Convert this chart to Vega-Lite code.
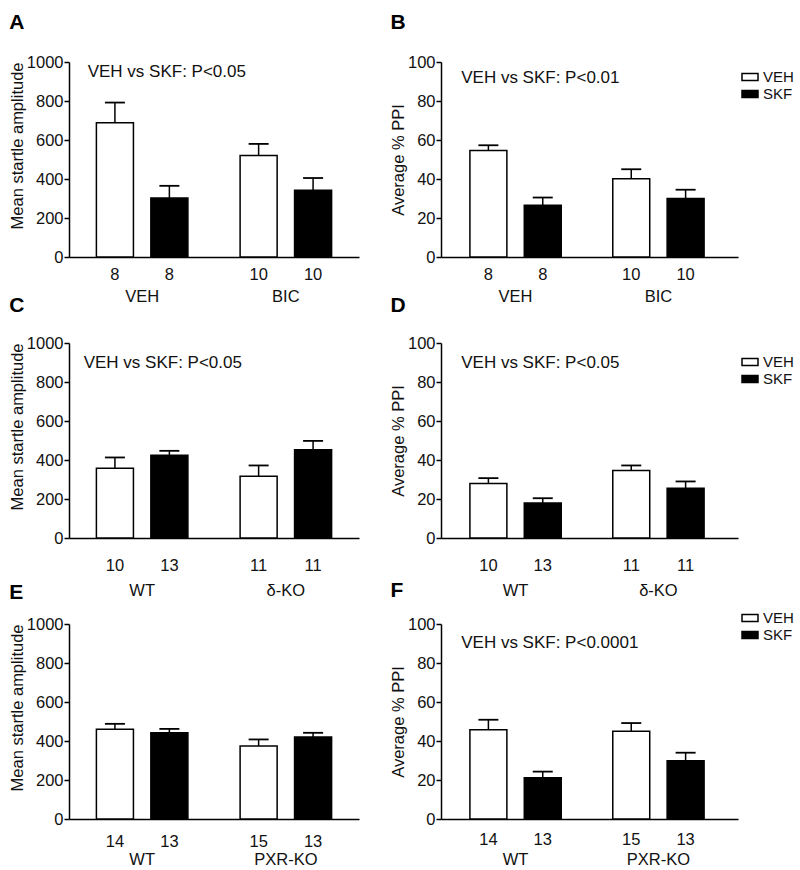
{
 "$schema": "https://vega.github.io/schema/vega-lite/v6.json",
 "padding": {"left": 9, "top": 12, "right": 2, "bottom": 2},
 "background": "white",
 "datasets": {
  "bars": [
   {"panel":"A","group":"VEH","trt":"VEH","n":"8","value":688,"upper":792},
   {"panel":"A","group":"VEH","trt":"SKF","n":"8","value":303,"upper":365},
   {"panel":"A","group":"BIC","trt":"VEH","n":"10","value":520,"upper":580},
   {"panel":"A","group":"BIC","trt":"SKF","n":"10","value":342,"upper":405},
   {"panel":"B","group":"VEH","trt":"VEH","n":"8","value":54.6,"upper":57.3},
   {"panel":"B","group":"VEH","trt":"SKF","n":"8","value":26.6,"upper":30.5},
   {"panel":"B","group":"BIC","trt":"VEH","n":"10","value":40.1,"upper":45},
   {"panel":"B","group":"BIC","trt":"SKF","n":"10","value":30,"upper":34.5},
   {"panel":"C","group":"WT","trt":"VEH","n":"10","value":358,"upper":413},
   {"panel":"C","group":"WT","trt":"SKF","n":"13","value":424,"upper":447},
   {"panel":"C","group":"δ-KO","trt":"VEH","n":"11","value":317,"upper":372},
   {"panel":"C","group":"δ-KO","trt":"SKF","n":"11","value":453,"upper":498},
   {"panel":"D","group":"WT","trt":"VEH","n":"10","value":27.9,"upper":30.7},
   {"panel":"D","group":"WT","trt":"SKF","n":"13","value":17.9,"upper":20.4},
   {"panel":"D","group":"δ-KO","trt":"VEH","n":"11","value":34.6,"upper":37.2},
   {"panel":"D","group":"δ-KO","trt":"SKF","n":"11","value":25.5,"upper":29},
   {"panel":"E","group":"WT","trt":"VEH","n":"14","value":460,"upper":488},
   {"panel":"E","group":"WT","trt":"SKF","n":"13","value":442,"upper":462},
   {"panel":"E","group":"PXR-KO","trt":"VEH","n":"15","value":374,"upper":408},
   {"panel":"E","group":"PXR-KO","trt":"SKF","n":"13","value":421,"upper":442},
   {"panel":"F","group":"WT","trt":"VEH","n":"14","value":45.8,"upper":50.9},
   {"panel":"F","group":"WT","trt":"SKF","n":"13","value":21.2,"upper":24.3},
   {"panel":"F","group":"PXR-KO","trt":"VEH","n":"15","value":45,"upper":49.2},
   {"panel":"F","group":"PXR-KO","trt":"SKF","n":"13","value":29.9,"upper":34}
  ],
  "notes": [
   {"panel":"A","group":"VEH","note":"VEH vs SKF: P<0.05"},
   {"panel":"B","group":"VEH","note":"VEH vs SKF: P<0.01"},
   {"panel":"C","group":"WT","note":"VEH vs SKF: P<0.05"},
   {"panel":"D","group":"WT","note":"VEH vs SKF: P<0.05"},
   {"panel":"F","group":"WT","note":"VEH vs SKF: P<0.0001"}
  ]
 },
 "columns": 2,
 "spacing": {"row": 86, "column": 82},
 "bounds": "flush",
 "resolve": {"scale": {"fill": "independent", "xOffset": "independent"}, "legend": {"fill": "independent"}},
 "concat": [
  {
   "width": 290, "height": 195,
   "title": {"text": "A", "offset": 21},
   "layer": [
    {"data":{"name":"bars"},"transform":[{"filter":"datum.panel==='A'"}],
     "mark":{"type":"bar","stroke":"black","strokeWidth":1.5},
     "encoding":{
      "x":{"field":"group","type":"nominal","scale":{"domain":["VEH","BIC"],"paddingInner":0.242,"paddingOuter":0.13},"axis":{"labelPadding":31}},
      "xOffset":{"field":"trt","type":"nominal","scale":{"domain":["VEH","SKF"],"paddingInner":0.32,"paddingOuter":0.16}},
      "y":{"field":"value","type":"quantitative","title":"Mean startle amplitude","scale":{"domain":[0,1000],"nice":false},"axis":{"values":[0,200,400,600,800,1000],"tickCount":6,"format":"d","titleAnchor":"end"}},
      "fill":{"field":"trt","type":"nominal","scale":{"domain":["VEH","SKF"],"range":["white","black"]},"legend":null}}},
    {"data":{"name":"bars"},"transform":[{"filter":"datum.panel==='A'"}],
     "mark":{"type":"rule","strokeWidth":1.5,"color":"black"},
     "encoding":{"x":{"field":"group","type":"nominal"},"xOffset":{"field":"trt","type":"nominal"},
      "y":{"field":"value","type":"quantitative","title":"Mean startle amplitude","axis":{"values":[0,200,400,600,800,1000],"tickCount":6,"format":"d","titleAnchor":"end"}},"y2":{"field":"upper"}}},
    {"data":{"name":"bars"},"transform":[{"filter":"datum.panel==='A'"}],
     "mark":{"type":"tick","orient":"horizontal","size":20,"thickness":1.8,"color":"black","opacity":1},
     "encoding":{"x":{"field":"group","type":"nominal"},"xOffset":{"field":"trt","type":"nominal"},
      "y":{"field":"upper","type":"quantitative","title":"Mean startle amplitude","axis":{"values":[0,200,400,600,800,1000],"tickCount":6,"format":"d","titleAnchor":"end"}}}},
    {"data":{"name":"bars"},"transform":[{"filter":"datum.panel==='A'"}],
     "mark":{"type":"text","baseline":"middle","dy":18},
     "encoding":{"x":{"field":"group","type":"nominal"},"xOffset":{"field":"trt","type":"nominal"},
      "y":{"datum":0,"type":"quantitative"},"text":{"field":"n"}}},
    {"data":{"name":"notes"},"transform":[{"filter":"datum.panel==='A'"}],
     "mark":{"type":"text","align":"left","baseline":"middle","dy":10,"fontSize":17},
     "encoding":{"x":{"field":"group","type":"nominal","bandPosition":0},
      "y":{"datum":1000,"type":"quantitative"},"text":{"field":"note"}}}
   ]
  },
  {
   "width": 297, "height": 195,
   "title": {"text": "B", "offset": 21},
   "layer": [
    {"data":{"name":"bars"},"transform":[{"filter":"datum.panel==='B'"}],
     "mark":{"type":"bar","stroke":"black","strokeWidth":1.5},
     "encoding":{
      "x":{"field":"group","type":"nominal","scale":{"domain":["VEH","BIC"],"paddingInner":0.239,"paddingOuter":0.159,"align":0.445},"axis":{"labelPadding":31}},
      "xOffset":{"field":"trt","type":"nominal","scale":{"domain":["VEH","SKF"],"paddingInner":0.32,"paddingOuter":0.16}},
      "y":{"field":"value","type":"quantitative","title":"Average % PPI","scale":{"domain":[0,100],"nice":false},"axis":{"values":[0,20,40,60,80,100],"tickCount":6,"format":"d"}},
      "fill":{"field":"trt","type":"nominal","scale":{"domain":["VEH","SKF"],"range":["white","black"]},"legend":{"title":null,"legendX":300,"legendY":6}}}},
    {"data":{"name":"bars"},"transform":[{"filter":"datum.panel==='B'"}],
     "mark":{"type":"rule","strokeWidth":1.5,"color":"black"},
     "encoding":{"x":{"field":"group","type":"nominal"},"xOffset":{"field":"trt","type":"nominal"},
      "y":{"field":"value","type":"quantitative","title":"Average % PPI","axis":{"values":[0,20,40,60,80,100],"tickCount":6,"format":"d"}},"y2":{"field":"upper"}}},
    {"data":{"name":"bars"},"transform":[{"filter":"datum.panel==='B'"}],
     "mark":{"type":"tick","orient":"horizontal","size":20,"thickness":1.8,"color":"black","opacity":1},
     "encoding":{"x":{"field":"group","type":"nominal"},"xOffset":{"field":"trt","type":"nominal"},
      "y":{"field":"upper","type":"quantitative","title":"Average % PPI","axis":{"values":[0,20,40,60,80,100],"tickCount":6,"format":"d"}}}},
    {"data":{"name":"bars"},"transform":[{"filter":"datum.panel==='B'"}],
     "mark":{"type":"text","baseline":"middle","dy":18},
     "encoding":{"x":{"field":"group","type":"nominal"},"xOffset":{"field":"trt","type":"nominal"},
      "y":{"datum":0,"type":"quantitative"},"text":{"field":"n"}}},
    {"data":{"name":"notes"},"transform":[{"filter":"datum.panel==='B'"}],
     "mark":{"type":"text","align":"left","baseline":"middle","dy":16,"fontSize":17},
     "encoding":{"x":{"field":"group","type":"nominal","bandPosition":0},
      "y":{"datum":100,"type":"quantitative"},"text":{"field":"note"}}}
   ]
  },
  {
   "width": 290, "height": 195,
   "title": {"text": "C", "offset": 19},
   "layer": [
    {"data":{"name":"bars"},"transform":[{"filter":"datum.panel==='C'"}],
     "mark":{"type":"bar","stroke":"black","strokeWidth":1.5},
     "encoding":{
      "x":{"field":"group","type":"nominal","scale":{"domain":["WT","δ-KO"],"paddingInner":0.242,"paddingOuter":0.13},"axis":{"labelPadding":44}},
      "xOffset":{"field":"trt","type":"nominal","scale":{"domain":["VEH","SKF"],"paddingInner":0.32,"paddingOuter":0.16}},
      "y":{"field":"value","type":"quantitative","title":"Mean startle amplitude","scale":{"domain":[0,1000],"nice":false},"axis":{"values":[0,200,400,600,800,1000],"tickCount":6,"format":"d","titleAnchor":"end"}},
      "fill":{"field":"trt","type":"nominal","scale":{"domain":["VEH","SKF"],"range":["white","black"]},"legend":null}}},
    {"data":{"name":"bars"},"transform":[{"filter":"datum.panel==='C'"}],
     "mark":{"type":"rule","strokeWidth":1.5,"color":"black"},
     "encoding":{"x":{"field":"group","type":"nominal"},"xOffset":{"field":"trt","type":"nominal"},
      "y":{"field":"value","type":"quantitative","title":"Mean startle amplitude","axis":{"values":[0,200,400,600,800,1000],"tickCount":6,"format":"d","titleAnchor":"end"}},"y2":{"field":"upper"}}},
    {"data":{"name":"bars"},"transform":[{"filter":"datum.panel==='C'"}],
     "mark":{"type":"tick","orient":"horizontal","size":20,"thickness":1.8,"color":"black","opacity":1},
     "encoding":{"x":{"field":"group","type":"nominal"},"xOffset":{"field":"trt","type":"nominal"},
      "y":{"field":"upper","type":"quantitative","title":"Mean startle amplitude","axis":{"values":[0,200,400,600,800,1000],"tickCount":6,"format":"d","titleAnchor":"end"}}}},
    {"data":{"name":"bars"},"transform":[{"filter":"datum.panel==='C'"}],
     "mark":{"type":"text","baseline":"middle","dy":28},
     "encoding":{"x":{"field":"group","type":"nominal"},"xOffset":{"field":"trt","type":"nominal"},
      "y":{"datum":0,"type":"quantitative"},"text":{"field":"n"}}},
    {"data":{"name":"notes"},"transform":[{"filter":"datum.panel==='C'"}],
     "mark":{"type":"text","align":"left","baseline":"middle","dy":20,"fontSize":17,"dx":-4},
     "encoding":{"x":{"field":"group","type":"nominal","bandPosition":0},
      "y":{"datum":1000,"type":"quantitative"},"text":{"field":"note"}}}
   ]
  },
  {
   "width": 297, "height": 195,
   "title": {"text": "D", "offset": 19},
   "layer": [
    {"data":{"name":"bars"},"transform":[{"filter":"datum.panel==='D'"}],
     "mark":{"type":"bar","stroke":"black","strokeWidth":1.5},
     "encoding":{
      "x":{"field":"group","type":"nominal","scale":{"domain":["WT","δ-KO"],"paddingInner":0.239,"paddingOuter":0.159,"align":0.445},"axis":{"labelPadding":44}},
      "xOffset":{"field":"trt","type":"nominal","scale":{"domain":["VEH","SKF"],"paddingInner":0.32,"paddingOuter":0.16}},
      "y":{"field":"value","type":"quantitative","title":"Average % PPI","scale":{"domain":[0,100],"nice":false},"axis":{"values":[0,20,40,60,80,100],"tickCount":6,"format":"d"}},
      "fill":{"field":"trt","type":"nominal","scale":{"domain":["VEH","SKF"],"range":["white","black"]},"legend":{"title":null,"legendX":300,"legendY":10}}}},
    {"data":{"name":"bars"},"transform":[{"filter":"datum.panel==='D'"}],
     "mark":{"type":"rule","strokeWidth":1.5,"color":"black"},
     "encoding":{"x":{"field":"group","type":"nominal"},"xOffset":{"field":"trt","type":"nominal"},
      "y":{"field":"value","type":"quantitative","title":"Average % PPI","axis":{"values":[0,20,40,60,80,100],"tickCount":6,"format":"d"}},"y2":{"field":"upper"}}},
    {"data":{"name":"bars"},"transform":[{"filter":"datum.panel==='D'"}],
     "mark":{"type":"tick","orient":"horizontal","size":20,"thickness":1.8,"color":"black","opacity":1},
     "encoding":{"x":{"field":"group","type":"nominal"},"xOffset":{"field":"trt","type":"nominal"},
      "y":{"field":"upper","type":"quantitative","title":"Average % PPI","axis":{"values":[0,20,40,60,80,100],"tickCount":6,"format":"d"}}}},
    {"data":{"name":"bars"},"transform":[{"filter":"datum.panel==='D'"}],
     "mark":{"type":"text","baseline":"middle","dy":28},
     "encoding":{"x":{"field":"group","type":"nominal"},"xOffset":{"field":"trt","type":"nominal"},
      "y":{"datum":0,"type":"quantitative"},"text":{"field":"n"}}},
    {"data":{"name":"notes"},"transform":[{"filter":"datum.panel==='D'"}],
     "mark":{"type":"text","align":"left","baseline":"middle","dy":20,"fontSize":17},
     "encoding":{"x":{"field":"group","type":"nominal","bandPosition":0},
      "y":{"datum":100,"type":"quantitative"},"text":{"field":"note"}}}
   ]
  },
  {
   "width": 290, "height": 195,
   "title": {"text": "E", "offset": 13},
   "layer": [
    {"data":{"name":"bars"},"transform":[{"filter":"datum.panel==='E'"}],
     "mark":{"type":"bar","stroke":"black","strokeWidth":1.5},
     "encoding":{
      "x":{"field":"group","type":"nominal","scale":{"domain":["WT","PXR-KO"],"paddingInner":0.242,"paddingOuter":0.13},"axis":{"labelPadding":32}},
      "xOffset":{"field":"trt","type":"nominal","scale":{"domain":["VEH","SKF"],"paddingInner":0.32,"paddingOuter":0.16}},
      "y":{"field":"value","type":"quantitative","title":"Mean startle amplitude","scale":{"domain":[0,1000],"nice":false},"axis":{"values":[0,200,400,600,800,1000],"tickCount":6,"format":"d","titleAnchor":"end"}},
      "fill":{"field":"trt","type":"nominal","scale":{"domain":["VEH","SKF"],"range":["white","black"]},"legend":null}}},
    {"data":{"name":"bars"},"transform":[{"filter":"datum.panel==='E'"}],
     "mark":{"type":"rule","strokeWidth":1.5,"color":"black"},
     "encoding":{"x":{"field":"group","type":"nominal"},"xOffset":{"field":"trt","type":"nominal"},
      "y":{"field":"value","type":"quantitative","title":"Mean startle amplitude","axis":{"values":[0,200,400,600,800,1000],"tickCount":6,"format":"d","titleAnchor":"end"}},"y2":{"field":"upper"}}},
    {"data":{"name":"bars"},"transform":[{"filter":"datum.panel==='E'"}],
     "mark":{"type":"tick","orient":"horizontal","size":20,"thickness":1.8,"color":"black","opacity":1},
     "encoding":{"x":{"field":"group","type":"nominal"},"xOffset":{"field":"trt","type":"nominal"},
      "y":{"field":"upper","type":"quantitative","title":"Mean startle amplitude","axis":{"values":[0,200,400,600,800,1000],"tickCount":6,"format":"d","titleAnchor":"end"}}}},
    {"data":{"name":"bars"},"transform":[{"filter":"datum.panel==='E'"}],
     "mark":{"type":"text","baseline":"middle","dy":23},
     "encoding":{"x":{"field":"group","type":"nominal"},"xOffset":{"field":"trt","type":"nominal"},
      "y":{"datum":0,"type":"quantitative"},"text":{"field":"n"}}}
   ]
  },
  {
   "width": 297, "height": 195,
   "title": {"text": "F", "offset": 8},
   "layer": [
    {"data":{"name":"bars"},"transform":[{"filter":"datum.panel==='F'"}],
     "mark":{"type":"bar","stroke":"black","strokeWidth":1.5},
     "encoding":{
      "x":{"field":"group","type":"nominal","scale":{"domain":["WT","PXR-KO"],"paddingInner":0.239,"paddingOuter":0.159,"align":0.445},"axis":{"labelPadding":32}},
      "xOffset":{"field":"trt","type":"nominal","scale":{"domain":["VEH","SKF"],"paddingInner":0.32,"paddingOuter":0.16}},
      "y":{"field":"value","type":"quantitative","title":"Average % PPI","scale":{"domain":[0,100],"nice":false},"axis":{"values":[0,20,40,60,80,100],"tickCount":6,"format":"d"}},
      "fill":{"field":"trt","type":"nominal","scale":{"domain":["VEH","SKF"],"range":["white","black"]},"legend":{"title":null,"legendX":300,"legendY":-15}}}},
    {"data":{"name":"bars"},"transform":[{"filter":"datum.panel==='F'"}],
     "mark":{"type":"rule","strokeWidth":1.5,"color":"black"},
     "encoding":{"x":{"field":"group","type":"nominal"},"xOffset":{"field":"trt","type":"nominal"},
      "y":{"field":"value","type":"quantitative","title":"Average % PPI","axis":{"values":[0,20,40,60,80,100],"tickCount":6,"format":"d"}},"y2":{"field":"upper"}}},
    {"data":{"name":"bars"},"transform":[{"filter":"datum.panel==='F'"}],
     "mark":{"type":"tick","orient":"horizontal","size":20,"thickness":1.8,"color":"black","opacity":1},
     "encoding":{"x":{"field":"group","type":"nominal"},"xOffset":{"field":"trt","type":"nominal"},
      "y":{"field":"upper","type":"quantitative","title":"Average % PPI","axis":{"values":[0,20,40,60,80,100],"tickCount":6,"format":"d"}}}},
    {"data":{"name":"bars"},"transform":[{"filter":"datum.panel==='F'"}],
     "mark":{"type":"text","baseline":"middle","dy":21},
     "encoding":{"x":{"field":"group","type":"nominal"},"xOffset":{"field":"trt","type":"nominal"},
      "y":{"datum":0,"type":"quantitative"},"text":{"field":"n"}}},
    {"data":{"name":"notes"},"transform":[{"filter":"datum.panel==='F'"}],
     "mark":{"type":"text","align":"left","baseline":"middle","dy":19,"fontSize":17},
     "encoding":{"x":{"field":"group","type":"nominal","bandPosition":0},
      "y":{"datum":100,"type":"quantitative"},"text":{"field":"note"}}}
   ]
  }
 ],
 "config": {
  "view": {"stroke": null},
  "font": "Liberation Sans",
  "axis": {"domainColor": "black", "domainWidth": 1.5, "tickColor": "black", "tickWidth": 1.5, "grid": false, "labelOverlap": false,
           "labelFont": "Liberation Sans", "labelFontSize": 16.5, "labelColor": "#111",
           "titleFont": "Liberation Sans", "titleFontSize": 16.5, "titleFontWeight": "normal", "titleColor": "#111"},
  "axisX": {"ticks": false, "tickSize": 0, "title": null, "labelAngle": 0},
  "axisY": {"tickSize": 5, "labelPadding": 1, "titlePadding": 1, "labelFlush": false},
  "legend": {"orient": "none", "labelFont": "Liberation Sans", "labelFontSize": 15, "labelColor": "#111",
             "symbolType": "M-1,-0.45H1V0.45H-1Z", "symbolSize": 256, "symbolStrokeColor": "black", "symbolStrokeWidth": 1.5,
             "rowPadding": 0, "labelOffset": 4, "padding": 0},
  "title": {"anchor": "start", "frame": "bounds", "fontSize": 21, "fontWeight": "bold", "font": "Liberation Sans", "color": "black"},
  "text": {"font": "Liberation Sans", "fontSize": 16.5, "color": "#111"}
 }
}
